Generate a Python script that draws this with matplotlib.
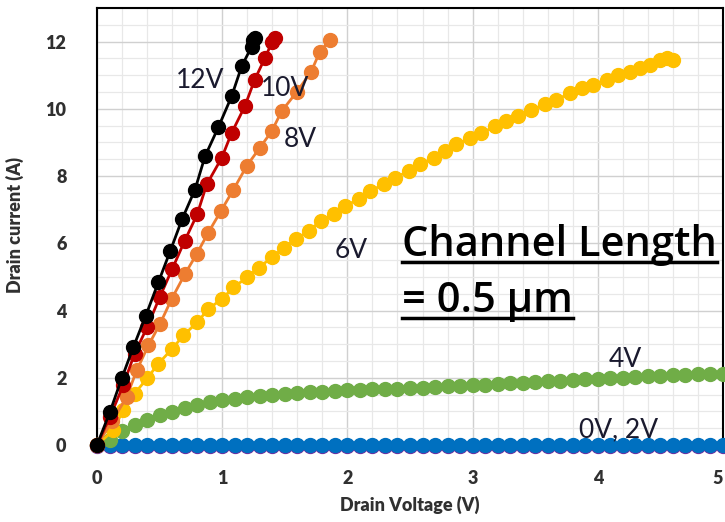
import numpy as np
import matplotlib
matplotlib.use('Agg')
import matplotlib.pyplot as plt
from matplotlib.ticker import MultipleLocator
from matplotlib.lines import Line2D

# drain voltage sweep shared by the flat / slow curves
v_sweep = [0.0, 0.1, 0.2, 0.3, 0.4, 0.5, 0.6, 0.7, 0.8, 0.9,
           1.0, 1.1, 1.2, 1.3, 1.4, 1.5, 1.6, 1.7, 1.8, 1.9,
           2.0, 2.1, 2.2, 2.3, 2.4, 2.5, 2.6, 2.7, 2.8, 2.9,
           3.0, 3.1, 3.2, 3.3, 3.4, 3.5, 3.6, 3.7, 3.8, 3.9,
           4.0, 4.1, 4.2, 4.3, 4.4, 4.5, 4.6, 4.7, 4.8, 4.9, 5.0]

i_0v = [0.0] * 51
i_2v = [-0.04] * 51
i_4v = [0.0, 0.15, 0.42, 0.59, 0.74, 0.88, 0.99, 1.09, 1.18, 1.27,
        1.33, 1.38, 1.42, 1.46, 1.49, 1.52, 1.55, 1.57, 1.59, 1.62,
        1.63, 1.65, 1.66, 1.67, 1.68, 1.70, 1.71, 1.73, 1.75, 1.76,
        1.78, 1.79, 1.81, 1.83, 1.85, 1.87, 1.89, 1.91, 1.93, 1.95,
        1.97, 1.99, 2.00, 2.02, 2.04, 2.05, 2.07, 2.08, 2.10, 2.11, 2.12]

v_6v = [0, 0.13, 0.21, 0.30, 0.40, 0.49, 0.60, 0.69, 0.80, 0.89,
        1.0, 1.09, 1.20, 1.29, 1.40, 1.49, 1.59, 1.69, 1.79, 1.89,
        1.98, 2.09, 2.18, 2.29, 2.38, 2.49, 2.58, 2.69, 2.78, 2.87,
        2.98, 3.07, 3.18, 3.27, 3.36, 3.47, 3.58, 3.67, 3.78, 3.87,
        3.96, 4.07, 4.16, 4.26, 4.34, 4.42, 4.50, 4.55, 4.60]
i_6v = [0, 0.44, 1.04, 1.53, 1.98, 2.42, 2.86, 3.26, 3.65, 4.05,
        4.35, 4.69, 4.99, 5.28, 5.58, 5.87, 6.12, 6.37, 6.67, 6.86,
        7.11, 7.31, 7.56, 7.75, 7.95, 8.15, 8.35, 8.54, 8.74, 8.94,
        9.13, 9.28, 9.48, 9.63, 9.78, 9.98, 10.13, 10.27, 10.47, 10.62,
        10.72, 10.87, 11.01, 11.11, 11.21, 11.31, 11.46, 11.51, 11.46]

v_8v = [0, 0.12, 0.237, 0.317, 0.41, 0.503, 0.597, 0.703, 0.796, 0.889,
        0.99, 1.09, 1.196, 1.30, 1.395, 1.475, 1.595, 1.71, 1.78, 1.86]
i_8v = [0, 0.7, 1.43, 2.22, 2.96, 3.6, 4.35, 5.09, 5.68, 6.32,
        6.96, 7.6, 8.3, 8.84, 9.33, 9.93, 10.5, 11.1, 11.7, 12.05]

v_10v = [0, 0.104, 0.21, 0.30, 0.40, 0.50, 0.60, 0.70, 0.80, 0.876,
         0.996, 1.075, 1.18, 1.26, 1.34, 1.40, 1.42]
i_10v = [0, 0.84, 1.78, 2.72, 3.5, 4.39, 5.23, 6.07, 6.86, 7.75,
         8.54, 9.28, 10.07, 10.87, 11.5, 12.0, 12.1]

v_12v = [0, 0.104, 0.197, 0.29, 0.39, 0.49, 0.585, 0.68, 0.783, 0.863,
         0.969, 1.075, 1.155, 1.235, 1.248, 1.26]
i_12v = [0, 0.99, 1.98, 2.91, 3.85, 4.84, 5.77, 6.72, 7.6, 8.59,
         9.45, 10.37, 11.26, 11.85, 12.05, 12.1]

x_ticks = [0, 1, 2, 3, 4, 5]
y_ticks = [0, 2, 4, 6, 8, 10, 12]

fig = plt.figure(figsize=(7.25, 5.22), dpi=100)
ax = fig.add_axes([0.1338, 0.1475, 0.8634, 0.8372])

ms = 10
series = [
    (v_sweep, i_2v, '#7030A0'),
    (v_sweep, i_0v, '#0070C0'),
    (v_sweep, i_4v, '#70AD47'),
    (v_6v, i_6v, '#FFC000'),
    (v_8v, i_8v, '#ED7D31'),
    (v_10v, i_10v, '#C00000'),
    (v_12v, i_12v, '#000000'),
]
for v, i, c in series:
    ax.plot(v, i, '-o', color=c, lw=2, ms=ms, mec=c, mfc=c, clip_on=False, zorder=3)

ax.set_xlim(0, 5)
ax.set_ylim(0, 13)
ax.set_xticks(x_ticks)
ax.set_yticks(y_ticks)
ax.xaxis.set_minor_locator(MultipleLocator(0.2))
ax.yaxis.set_minor_locator(MultipleLocator(0.5))
ax.grid(which='major', color='#d0d0d0', lw=1.0)
ax.grid(which='minor', color='#e8e8e8', lw=0.9)
ax.set_axisbelow(True)
ax.tick_params(which='both', length=0)
ax.tick_params(axis='x', pad=18)
ax.tick_params(axis='y', pad=22)
for lab in ax.get_xticklabels() + ax.get_yticklabels():
    lab.set_fontfamily('Lato')
    lab.set_fontweight('heavy')
    lab.set_fontsize(13)
    lab.set_color('#303030')
# last x label sits on the right edge, as in the source
ax.get_xticklabels()[-1].set_horizontalalignment('right')
for s in ax.spines.values():
    s.set_color('black')
    s.set_linewidth(1.5)
ax.spines['bottom'].set_color('#bfbfbf')

fig.text(0.565, 0.033, 'Drain Voltage (V)', ha='center', va='center',
         fontfamily='Lato', fontweight='heavy', fontsize=13, color='#303030')
fig.text(0.021, 0.569, 'Drain current (A)', ha='center', va='center', rotation=90,
         fontfamily='Lato', fontweight='heavy', fontsize=13, color='#303030')

lab_kw = dict(fontfamily='Lato', fontsize=19, color='#1a1a2e', ha='center', va='center', zorder=4)
ax.text(0.82, 10.85, '12V', **lab_kw)
ax.text(1.5, 10.6, '10V', **lab_kw)
ax.text(1.62, 9.1, '8V', **lab_kw)
ax.text(2.03, 5.8, '6V', **lab_kw)
ax.text(4.22, 2.53, '4V', **lab_kw)
ax.text(4.17, 0.45, '0V, 2V', **lab_kw)

t1 = ax.text(2.44, 5.95, 'Channel Length', fontfamily='Open Sans', fontweight='semibold',
             fontsize=30, color='black', ha='left', va='center', zorder=4)
t2 = ax.text(2.44, 4.28, '= 0.5 µm', fontfamily='Open Sans', fontweight='semibold',
             fontsize=30, color='black', ha='left', va='center', zorder=4)

# underline both lines of the note
fig.canvas.draw()
r = fig.canvas.get_renderer()
for t in (t1, t2):
    bb = t.get_window_extent(renderer=r)
    x0, x1 = bb.x0 / fig.bbox.width, bb.x1 / fig.bbox.width
    y = (bb.y0 + 4) / fig.bbox.height
    fig.add_artist(Line2D([x0, x1], [y, y], color='black', lw=2.5))

fig.savefig('out.png', dpi=100)
